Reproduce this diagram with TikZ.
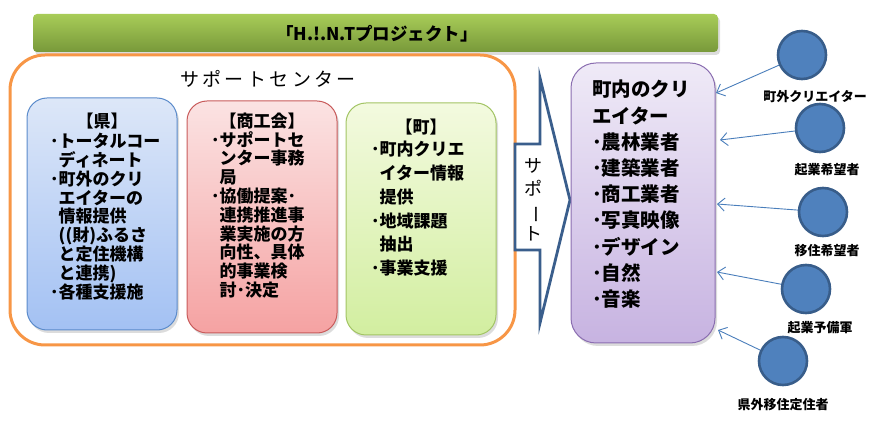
\documentclass[tikz,border=0pt]{standalone}
\usepackage{fontspec}
\usepackage{graphicx}
\setmainfont{Noto Sans CJK JP}
\usetikzlibrary{arrows.meta}
\definecolor{barTop}{HTML}{A8CC58}
\definecolor{barBot}{HTML}{78993A}
\definecolor{orangeC}{HTML}{F79646}
\definecolor{blueB}{HTML}{5B8BCB}
\definecolor{blueT}{HTML}{DDE7F8}
\definecolor{blueD}{HTML}{A3C1F3}
\definecolor{redB}{HTML}{C85B5B}
\definecolor{redT}{HTML}{FBE3E3}
\definecolor{redD}{HTML}{F5A2A2}
\definecolor{grnB}{HTML}{A2C464}
\definecolor{grnT}{HTML}{F3FADF}
\definecolor{grnD}{HTML}{D2EEA0}
\definecolor{purB}{HTML}{8A6DB0}
\definecolor{purT}{HTML}{EFEAF7}
\definecolor{purD}{HTML}{C7B3E1}
\definecolor{circF}{HTML}{4F81BD}
\definecolor{circB}{HTML}{385D8A}
\definecolor{arrB}{HTML}{3A5E8C}
\definecolor{conC}{HTML}{4A7EBB}
\tikzset{
  shadowbox/.style={fill=black!30, opacity=0.45, draw=none},
  colbox/.style={draw, line width=1pt, rounded corners=20pt, minimum width=150pt, minimum height=232pt, inner sep=0pt},
  boxhead/.style={inner sep=0pt, font=\bfseries\fontsize{17}{19}\selectfont},
  boxtxt/.style={align=left, inner sep=0pt, anchor=north west},
  circ/.style={circle, draw=circB, fill=circF, line width=2.6pt, minimum size=48pt, inner sep=0pt},
  circlab/.style={inner sep=0pt, font=\bfseries\fontsize{13}{15}\selectfont},
  conn/.style={draw=conC, line width=0.9pt, -{Straight Barb[length=7pt,width=13pt]}},
}
\begin{document}
\begin{tikzpicture}[x=1pt,y=-1pt]
\useasboundingbox (0,0) rectangle (875,427);
% title bar
\fill[shadowbox, rounded corners=4pt] (35,17) rectangle (720,55);
\node[rounded corners=4pt, top color=barTop, bottom color=barBot, minimum width=685pt, minimum height=38pt, inner sep=0pt] (bar) at (375.5,33) {};
\node[font=\bfseries\fontsize{17.5}{20}\selectfont, inner sep=0pt] (bartxt) at (377,34) {「H.!.N.Tプロジェクト」};
% support center
\node[draw=orangeC, line width=3pt, rounded corners=35pt, minimum width=505pt, minimum height=290pt, inner sep=0pt] (center) at (262.5,200) {};
\node[inner sep=0pt, font=\fontsize{19}{22}\selectfont\addfontfeature{LetterSpace=18}] (ctitle) at (268,79) {サポートセンター};
% blue box
\fill[shadowbox, rounded corners=20pt] (29,101) rectangle (179,333);
\node[colbox, draw=blueB, top color=blueT, bottom color=blueD] (ken) at (102,214) {};
\node[boxhead] (kenh) at (102,121) {【県】};
\node[boxtxt, font=\bfseries\fontsize{17}{18.8}\selectfont] (kent) at (50,133) {･トータルコー\\\hspace*{8.5pt}ディネート\\･町外のクリ\\\hspace*{8.5pt}エイターの\\\hspace*{8.5pt}情報提供\\\hspace*{8.5pt}((財)ふるさ\\\hspace*{8.5pt}と定住機構\\\hspace*{8.5pt}と連携)\\･各種支援施};
% red box
\fill[shadowbox, rounded corners=20pt] (189,104) rectangle (339,336);
\node[colbox, draw=redB, top color=redT, bottom color=redD] (shoko) at (262,217) {};
\node[boxhead] (shokoh) at (262,121) {【商工会】};
\node[boxtxt, font=\bfseries\fontsize{17}{18.8}\selectfont] (shokot) at (211,131) {･サポートセ\\\hspace*{8.5pt}ンター事務\\\hspace*{8.5pt}局\\･協働提案･\\\hspace*{8.5pt}連携推進事\\\hspace*{8.5pt}業実施の方\\\hspace*{8.5pt}向性、具体\\\hspace*{8.5pt}的事業検\\\hspace*{8.5pt}討･決定};
% green box
\fill[shadowbox, rounded corners=20pt] (348,106) rectangle (498,338);
\node[colbox, draw=grnB, top color=grnT, bottom color=grnD] (machi) at (421,219) {};
\node[boxhead] (machih) at (421,127) {【町】};
\node[boxtxt, font=\bfseries\fontsize{17}{23.8}\selectfont] (machit) at (371,141) {･町内クリエ\\\hspace*{8.5pt}イター情報\\\hspace*{8.5pt}提供\\･地域課題\\\hspace*{8.5pt}抽出\\･事業支援};
% block arrow
\draw[draw=arrB, fill=white, line width=2.8pt, line join=miter] (515,144) -- (540,144) -- (540,78) -- (570,200) -- (540,323) -- (540,250) -- (515,250) -- cycle;
\node[align=center, inner sep=0pt, font=\fontsize{18}{22.5}\selectfont] (supp) at (533,200) {サ\\ポ\\\rotatebox[origin=c]{-90}{ー}\\ト};
% purple box
\fill[shadowbox, rounded corners=25pt] (573,66) rectangle (717,346);
\node[draw=purB, line width=1pt, rounded corners=25pt, top color=purT, bottom color=purD, minimum width=144pt, minimum height=280pt, inner sep=0pt] (crea) at (643,203) {};
\node[boxtxt, font=\bfseries\fontsize{19.5}{26.2}\selectfont] (creat) at (592,80) {町内のクリ\\エイター\\･農林業者\\･建築業者\\･商工業者\\･写真映像\\･デザイン\\･自然\\･音楽};
% circles
\node[circ] (c1) at (802,55) {};
\node[circ] (c2) at (820,128) {};
\node[circ] (c3) at (823,212) {};
\node[circ] (c4) at (806,289) {};
\node[circ] (c5) at (783,361) {};
\node[circlab] (l1) at (815,97) {町外クリエイター};
\node[circlab] (l2) at (827,170) {起業希望者};
\node[circlab] (l3) at (827,251) {移住希望者};
\node[circlab] (l4) at (820,328) {起業予備軍};
\node[circlab] (l5) at (783,405) {県外移住定住者};
% connectors
\coordinate (p1) at (716,93);
\coordinate (p2) at (720,140);
\coordinate (p3) at (717,204);
\coordinate (p4) at (717,272);
\coordinate (p5) at (718,330);
\draw[conn] (c1) -- (p1);
\draw[conn] (c2) -- (p2);
\draw[conn] (c3) -- (p3);
\draw[conn] (c4) -- (p4);
\draw[conn] (c5) -- (p5);
\end{tikzpicture}
\end{document}
